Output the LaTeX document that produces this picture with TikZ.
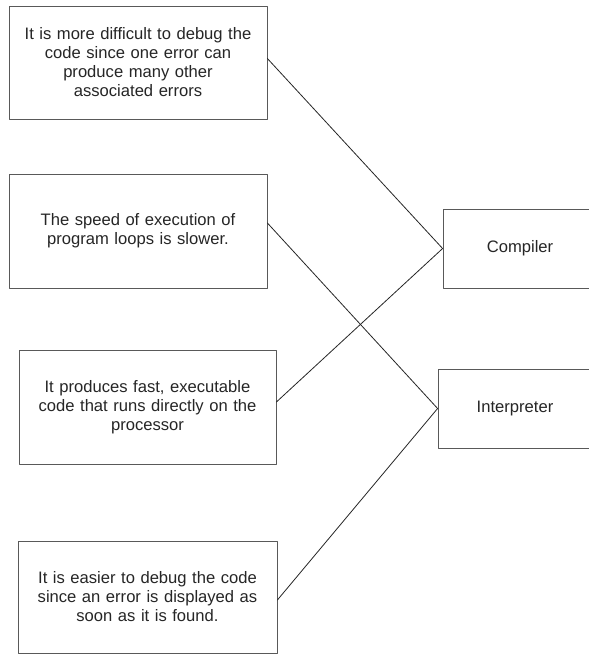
\documentclass[tikz,border=0pt]{standalone}
\usepackage{fontspec}
\setmainfont{Liberation Sans}
\usetikzlibrary{positioning}

\begin{document}
\begin{tikzpicture}[x=1pt,y=-1pt,line join=round,line cap=round,
  box/.style={draw=black!65,line width=0.8pt,rectangle,align=center,inner sep=2pt,
    text=black!85,font=\fontsize{16.6}{19}\selectfont},
  stmt/.style={box,minimum width=258pt,minimum height=113pt,text width=250pt},
  kind/.style={box,minimum width=154pt,minimum height=79pt},
  link/.style={black!85,line width=0.8pt}]
\clip (0,0) rectangle (589,654);
\fill[white] (0,0) rectangle (589,654);
\node[stmt] (difficult) at (138,62.5) {It is more difficult to debug the\\code since one error can\\produce many other\\associated errors};
\node[stmt,minimum height=114pt] (slow) at (138,231) {The speed of execution of\\program loops is slower.};
\node[stmt,minimum width=257pt,minimum height=114pt] (fast) at (147.5,407) {It produces fast, executable\\code that runs directly on the\\processor};
\node[stmt,minimum width=259pt,minimum height=112pt] (easy) at (147.5,597) {It is easier to debug the code\\since an error is displayed as\\soon as it is found.};
\node[kind] (compiler) at (520,248.5) {Compiler};
\node[kind] (interpreter) at (515,408.5) {Interpreter};
\foreach \a/\b/\s in {difficult/compiler/4,slow/interpreter/8,fast/compiler/5,easy/interpreter/-3}{\draw[link] ([yshift=\s pt]\a.east)--(\b.west);}
\end{tikzpicture}
\end{document}
